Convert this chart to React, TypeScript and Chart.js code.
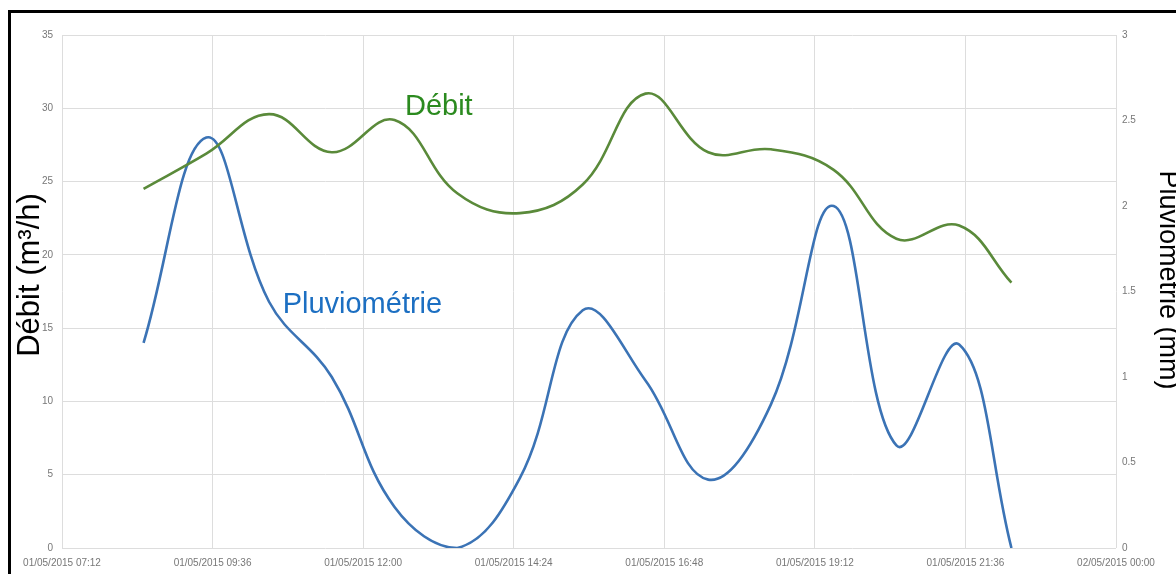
import React, { useEffect, useRef } from "react";
import { Chart, registerables } from "chart.js";

Chart.register(...registerables);

// ---- data ----
const times = ["08:30", "09:30", "10:30", "11:30", "12:30", "13:30", "14:30", "15:30", "16:30", "17:30", "18:30", "19:30", "20:30", "21:30", "22:20"];
const debit = [24.5, 26.9, 29.6, 27.0, 29.2, 24.2, 22.85, 24.8, 31.0, 27.0, 27.2, 25.8, 21.1, 22.0, 18.1];
const pluvio = [1.2, 2.4, 1.44, 1.0, 0.24, 0, 0.41, 1.39, 0.98, 0.4, 0.84, 2.0, 0.6, 1.19, 0];

const xMinLabel = "07:12";
const xMaxMinutes = 24 * 60; // 02/05/2015 00:00
const xStepMinutes = 144; // 2h24
const leftMax = 35;
const leftStep = 5;
const rightMax = 3;
const rightStep = 0.5;

const debitLabel = { text: "Débit", time: "12:40", value: 29.54 };
const pluvioLabel = { text: "Pluviométrie", time: "10:43", value: 16.03 };
const leftTitle = "Débit (m³/h)";
const rightTitle = "Pluviométrie (mm)";

const toMin = (t: string) => {
  const [h, m] = t.split(":").map(Number);
  return h * 60 + m;
};
const pad = (n: number) => (n < 10 ? "0" + n : "" + n);
const fmtTick = (v: number) => {
  const m = Math.round(v);
  const day = 1 + Math.floor(m / 1440);
  const r = m % 1440;
  return `${pad(day)}/05/2015 ${pad(Math.floor(r / 60))}:${pad(r % 60)}`;
};

const FONT = '"Liberation Sans", Arial, sans-serif';

const overlayPlugin = {
  id: "overlay",
  afterDraw(chart: any) {
    const ctx = chart.ctx as CanvasRenderingContext2D;
    const xs = chart.scales.x;
    const ys = chart.scales.y;
    ctx.save();
    // annotation labels
    ctx.textAlign = "left";
    ctx.textBaseline = "alphabetic";
    ctx.font = `29px ${FONT}`;
    ctx.fillStyle = "#2b8a1f";
    ctx.fillText(debitLabel.text, xs.getPixelForValue(toMin(debitLabel.time)), ys.getPixelForValue(debitLabel.value));
    ctx.fillStyle = "#1c6fc2";
    ctx.fillText(pluvioLabel.text, xs.getPixelForValue(toMin(pluvioLabel.time)), ys.getPixelForValue(pluvioLabel.value));

    // axis titles
    ctx.fillStyle = "#000000";
    ctx.textAlign = "center";
    ctx.save();
    ctx.translate(39, 275);
    ctx.rotate(-Math.PI / 2);
    ctx.font = `31px ${FONT}`;
    ctx.fillText(leftTitle, 0, 0);
    ctx.restore();

    ctx.save();
    ctx.translate(1160, 280);
    ctx.rotate(Math.PI / 2);
    ctx.font = `27px ${FONT}`;
    ctx.fillText(rightTitle, 0, 0);
    ctx.restore();

    // frame
    ctx.strokeStyle = "#000000";
    ctx.lineWidth = 3;
    ctx.beginPath();
    ctx.moveTo(9.5, 574);
    ctx.lineTo(9.5, 11.5);
    ctx.lineTo(1176, 11.5);
    ctx.stroke();
    ctx.restore();
  },
};

export default function App() {
  const ref = useRef<HTMLCanvasElement | null>(null);

  useEffect(() => {
    if (!ref.current) return;
    Chart.defaults.font.family = FONT;
    const chart = new Chart(ref.current, {
      type: "line",
      data: {
        datasets: [
          {
            label: "Débit",
            data: times.map((t, i) => ({ x: toMin(t), y: debit[i] })),
            borderColor: "#5a8a3a",
            borderWidth: 2.6,
            pointRadius: 0,
            tension: 0.4,
            fill: false,
            yAxisID: "y",
          },
          {
            label: "Pluviométrie",
            data: times.map((t, i) => ({ x: toMin(t), y: pluvio[i] })),
            borderColor: "#3b73b5",
            borderWidth: 2.6,
            pointRadius: 0,
            tension: 0.4,
            fill: false,
            yAxisID: "y1",
          },
        ],
      },
      options: {
        responsive: false,
        animation: false,
        devicePixelRatio: 1,
        layout: { padding: { top: 35, left: 0, right: 0, bottom: 0 } },
        plugins: { legend: { display: false }, tooltip: { enabled: false } },
        scales: {
          x: {
            type: "linear",
            min: toMin(xMinLabel),
            max: xMaxMinutes,
            afterBuildTicks: (s: any) => {
              const arr = [];
              for (let v = toMin(xMinLabel); v <= xMaxMinutes; v += xStepMinutes) arr.push({ value: v });
              s.ticks = arr;
            },
            afterFit: (s: any) => {
              s.height = 26;
            },
            grid: { color: "#dddddd", lineWidth: 1, drawTicks: false },
            border: { display: false },
            ticks: {
              padding: 9,
              maxRotation: 0,
              autoSkip: false,
              color: "#777777",
              font: { size: 10, family: FONT },
              callback: (v: any) => fmtTick(Number(v)),
            },
          },
          y: {
            position: "left",
            min: 0,
            max: leftMax,
            afterFit: (s: any) => {
              s.width = 62;
            },
            grid: { color: "#dddddd", lineWidth: 1, drawTicks: false },
            border: { display: false },
            ticks: { stepSize: leftStep, padding: 9, color: "#777777", font: { size: 10, family: FONT } },
          },
          y1: {
            position: "right",
            min: 0,
            max: rightMax,
            afterFit: (s: any) => {
              s.width = 60;
            },
            grid: { display: false, drawTicks: false },
            border: { display: false },
            ticks: {
              stepSize: rightStep,
              padding: 6,
              color: "#777777",
              font: { size: 10, family: FONT },
              callback: (v: any) => String(Math.round(Number(v) * 10) / 10),
            },
          },
        },
      },
      plugins: [overlayPlugin],
    } as any);
    return () => chart.destroy();
  }, []);

  return (
    <div style={{ position: "fixed", left: 0, top: 0, width: 1176, height: 574, background: "#ffffff" }}>
      <canvas ref={ref} width={1176} height={574} style={{ display: "block", width: 1176, height: 574 }} />
    </div>
  );
}
